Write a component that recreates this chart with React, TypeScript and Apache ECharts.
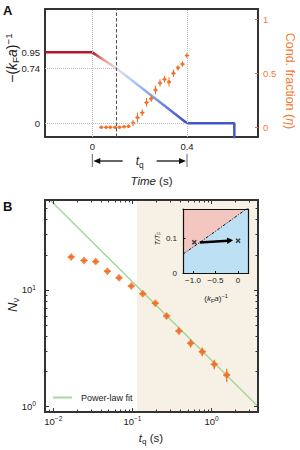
import React, { useEffect, useRef } from 'react';
import * as echarts from 'echarts';

const FONT = 'Liberation Sans, Arial, Helvetica, sans-serif';
const ORANGE = '#f26d21';
const ORANGE_TEXT = '#f47b35';
const FRAME = '#333333';
const GREEN = '#a6d79d';
const SHADE = '#f6f0e5';
const PINK = '#f4c6c0';
const LIGHTBLUE = '#bde0f5';

// ---------- Panel A ----------
const aTimeRange = [-0.2, 0.7];
const aKRange = [-0.183, 1.53];
const aEtaRange = [-0.09, 1.095];
const holdT = [-0.2, 0];
const holdK = [0.95, 0.95];
const rampT = [0, 0.1, 0.4];
const rampK = [0.95, 0.74, 0];
const finalT = [0.4, 0.6, 0.6];
const finalK = [0, 0, -0.3];
const quenchMarkT = 0.1;
const quenchMarkK = 0.74;
const condT = [0.038, 0.058, 0.076, 0.096, 0.115, 0.134, 0.153, 0.172, 0.191, 0.211, 0.229, 0.249, 0.267, 0.286, 0.305, 0.324, 0.343, 0.362, 0.381, 0.4];
const condEta = [0, 0, 0, 0, 0, 0.005, 0.01, 0.04, 0.09, 0.135, 0.23, 0.265, 0.345, 0.41, 0.445, 0.42, 0.5, 0.55, 0.585, 0.665];
const condErr = [0.012, 0.012, 0.012, 0.012, 0.012, 0.012, 0.015, 0.028, 0.046, 0.031, 0.04, 0.031, 0.04, 0.034, 0.031, 0.043, 0.034, 0.025, 0.025, 0.025];
const aTimeTicks = [0, 0.4];
const aKTicks = [0, 0.74, 0.95];
const aEtaTicks = [0, 0.5, 1];

// ---------- Panel B ----------
const bTRange = [0.00785, 3.85];
const bNRange = [0.901, 59.0];
const tq = [0.0168, 0.0244, 0.0343, 0.0481, 0.0676, 0.0966, 0.135, 0.194, 0.27, 0.386, 0.543, 0.761, 1.08, 1.55];
const Nv = [19.2, 17.9, 17.5, 14.5, 12.7, 10.8, 9.3, 7.7, 6.0, 4.45, 3.49, 2.96, 2.31, 1.87];
const NvErr = [0.6, 0.6, 0.6, 0.5, 0.45, 0.4, 0.35, 0.3, 0.3, 0.3, 0.28, 0.25, 0.22, 0.24];
const fitT = [0.008, 4.0];
const fitN = [64.3, 0.98];
const shadeStartT = 0.114;
const bTMajor = [0.01, 0.1, 1];
const bTMinor = [0.008, 0.009, 0.02, 0.03, 0.04, 0.05, 0.06, 0.07, 0.08, 0.09, 0.2, 0.3, 0.4, 0.5, 0.6, 0.7, 0.8, 0.9, 2, 3];
const bNMajor = [1, 10];
const bNMinor = [2, 3, 4, 5, 6, 7, 8, 9, 20, 30, 40, 50];

// ---------- Inset ----------
const iXRange = [-1.22, 0.22];
const iTRange = [0, 0.183];
const bndX = [-1.22, -0.85, -0.4, 0, 0.22];
const bndT = [0.055, 0.088, 0.129, 0.166, 0.186];
const crossX = [-0.97, 0];
const crossT = [0.089, 0.093];
const arrowX = [-0.85, -0.11];
const arrowT = [0.088, 0.094];
const iXTicks = [-1, -0.5, 0];
const iTTicks = [0, 0.1];

const L = Math.log10;

const richBase = (size: number, color = '#222') => ({
  b: { fontSize: size, fontFamily: FONT, color, lineHeight: size + 3 },
  it: { fontSize: size, fontFamily: FONT, color, fontStyle: 'italic', lineHeight: size + 3 },
  sup: { fontSize: size * 0.7, fontFamily: FONT, color, lineHeight: size * 0.7, verticalAlign: 'top' },
  sub: { fontSize: size * 0.7, fontFamily: FONT, color, lineHeight: size * 0.7, verticalAlign: 'bottom' },
});

const frameLine = (w = 2, c = FRAME) => ({ show: true, onZero: false, lineStyle: { color: c, width: w } });
const noLabel = { show: false };
const noTick = { show: false };
const noSplit = { show: false };

const powLabel = (v: number) => {
  const e = Math.round(v);
  return '{b|10}{sup|' + (e < 0 ? '\u2212' + -e : String(e)) + '}';
};

function buildOption() {
  const grids = [
    { left: 45, top: 9, width: 213, height: 128 },
    { left: 45, top: 200, width: 213, height: 212 },
    { left: 183, top: 209, width: 65, height: 64.5 },
  ];
  const bX = [L(bTRange[0]), L(bTRange[1])];
  const bY = [L(bNRange[0]), L(bNRange[1])];

  const xAxis: any[] = [
    {
      type: 'value', gridIndex: 0, position: 'bottom', min: aTimeRange[0], max: aTimeRange[1],
      axisLine: frameLine(), axisTick: noTick, splitLine: noSplit,
      axisLabel: { customValues: aTimeTicks, fontSize: 9.5, color: '#222', fontFamily: FONT, margin: 4, formatter: (v: number) => String(v) },
    },
    { type: 'value', gridIndex: 0, position: 'top', min: aTimeRange[0], max: aTimeRange[1], axisLine: frameLine(), axisTick: noTick, axisLabel: noLabel, splitLine: noSplit },
    {
      type: 'value', gridIndex: 1, position: 'bottom', min: bX[0], max: bX[1], z: 5,
      axisLine: frameLine(), splitLine: noSplit,
      axisTick: { show: true, inside: true, length: 4, customValues: bTMajor.map(L), lineStyle: { color: FRAME, width: 1 } },
      axisLabel: { customValues: bTMajor.map(L), margin: 3, formatter: powLabel, rich: richBase(9.5) },
    },
    {
      type: 'value', gridIndex: 1, position: 'bottom', min: bX[0], max: bX[1], z: 5,
      axisLine: { show: false, onZero: false }, splitLine: noSplit, axisLabel: noLabel,
      axisTick: { show: true, inside: true, length: 2.5, customValues: bTMinor.map(L), lineStyle: { color: FRAME, width: 1 } },
    },
    {
      type: 'value', gridIndex: 1, position: 'top', min: bX[0], max: bX[1], z: 5,
      axisLine: frameLine(), splitLine: noSplit, axisLabel: noLabel,
      axisTick: { show: true, inside: true, length: 4, customValues: bTMajor.map(L), lineStyle: { color: FRAME, width: 1 } },
    },
    {
      type: 'value', gridIndex: 1, position: 'top', min: bX[0], max: bX[1], z: 5,
      axisLine: { show: false, onZero: false }, splitLine: noSplit, axisLabel: noLabel,
      axisTick: { show: true, inside: true, length: 2.5, customValues: bTMinor.map(L), lineStyle: { color: FRAME, width: 1 } },
    },
    {
      type: 'value', gridIndex: 2, position: 'bottom', min: iXRange[0], max: iXRange[1], z: 20,
      axisLine: frameLine(1.2, '#111'), splitLine: noSplit,
      axisTick: { show: true, inside: true, length: 2.5, customValues: iXTicks, lineStyle: { color: '#111', width: 1 } },
      axisLabel: {
        customValues: iXTicks, fontSize: 8, color: '#222', fontFamily: FONT, margin: 3,
        formatter: (v: number) => (v === 0 ? '0' : (v < 0 ? '\u2212' : '') + Math.abs(v).toFixed(1)),
      },
    },
    { type: 'value', gridIndex: 2, position: 'top', min: iXRange[0], max: iXRange[1], z: 20, axisLine: frameLine(1.2, '#111'), axisTick: noTick, axisLabel: noLabel, splitLine: noSplit },
  ];

  const yAxis: any[] = [
    {
      type: 'value', gridIndex: 0, position: 'left', min: aKRange[0], max: aKRange[1],
      axisLine: frameLine(), axisTick: noTick, splitLine: noSplit,
      axisLabel: { customValues: aKTicks, fontSize: 9.5, color: '#222', fontFamily: FONT, margin: 5, formatter: (v: number) => (v === 0 ? '0' : v.toFixed(2)) },
    },
    {
      type: 'value', gridIndex: 0, position: 'right', min: aEtaRange[0], max: aEtaRange[1],
      axisLine: frameLine(), splitLine: noSplit,
      axisTick: { show: true, inside: true, length: 3, customValues: aEtaTicks, lineStyle: { color: ORANGE, width: 1 } },
      axisLabel: { customValues: aEtaTicks, fontSize: 9.5, color: ORANGE_TEXT, fontFamily: FONT, margin: 5, formatter: (v: number) => String(v) },
    },
    {
      type: 'value', gridIndex: 1, position: 'left', min: bY[0], max: bY[1], z: 5,
      axisLine: frameLine(), splitLine: noSplit,
      axisTick: { show: true, inside: true, length: 4, customValues: bNMajor.map(L), lineStyle: { color: FRAME, width: 1 } },
      axisLabel: { customValues: bNMajor.map(L), margin: 9, formatter: powLabel, rich: richBase(9.5) },
    },
    {
      type: 'value', gridIndex: 1, position: 'left', min: bY[0], max: bY[1], z: 5,
      axisLine: { show: false, onZero: false }, splitLine: noSplit, axisLabel: noLabel,
      axisTick: { show: true, inside: true, length: 2.5, customValues: bNMinor.map(L), lineStyle: { color: FRAME, width: 1 } },
    },
    {
      type: 'value', gridIndex: 1, position: 'right', min: bY[0], max: bY[1], z: 5,
      axisLine: frameLine(), splitLine: noSplit, axisLabel: noLabel,
      axisTick: { show: true, inside: true, length: 4, customValues: bNMajor.map(L), lineStyle: { color: FRAME, width: 1 } },
    },
    {
      type: 'value', gridIndex: 1, position: 'right', min: bY[0], max: bY[1], z: 5,
      axisLine: { show: false, onZero: false }, splitLine: noSplit, axisLabel: noLabel,
      axisTick: { show: true, inside: true, length: 2.5, customValues: bNMinor.map(L), lineStyle: { color: FRAME, width: 1 } },
    },
    {
      type: 'value', gridIndex: 2, position: 'left', min: iTRange[0], max: iTRange[1], z: 20,
      axisLine: frameLine(1.2, '#111'), splitLine: noSplit,
      axisTick: { show: true, inside: true, length: 2.5, customValues: iTTicks, lineStyle: { color: '#111', width: 1 } },
      axisLabel: { customValues: iTTicks, fontSize: 8, color: '#222', fontFamily: FONT, margin: 6, formatter: (v: number) => (v === 0 ? '0' : String(v)) },
    },
    { type: 'value', gridIndex: 2, position: 'right', min: iTRange[0], max: iTRange[1], z: 20, axisLine: frameLine(1.2, '#111'), axisTick: noTick, axisLabel: noLabel, splitLine: noSplit },
  ];

  const zip = (a: number[], b: number[]) => a.map((v, i) => [v, b[i]]);

  const errBars = (cap: number, width: number) => (params: any, api: any) => {
    const x = api.value(0);
    const y = api.value(1);
    const pLo = api.coord([x, api.value(2)]);
    const pHi = api.coord([x, api.value(3)]);
    const p = api.coord([x, y]);
    return {
      type: 'group',
      children: [
        { type: 'line', shape: { x1: pLo[0], y1: pLo[1], x2: pHi[0], y2: pHi[1] }, style: { stroke: ORANGE, lineWidth: width } },
        { type: 'line', shape: { x1: p[0] - cap, y1: p[1], x2: p[0] + cap, y2: p[1] }, style: { stroke: ORANGE, lineWidth: width } },
      ],
    };
  };

  const arrowRender = (params: any, api: any) => {
    const a = api.coord([api.value(0), api.value(1)]);
    const b = api.coord([api.value(2), api.value(3)]);
    const dx = b[0] - a[0];
    const dy = b[1] - a[1];
    const len = Math.sqrt(dx * dx + dy * dy) || 1;
    const ux = dx / len;
    const uy = dy / len;
    const hl = 6;
    const hw = 3.2;
    const bx = b[0] - ux * hl;
    const by = b[1] - uy * hl;
    return {
      type: 'group',
      children: [
        { type: 'line', shape: { x1: a[0], y1: a[1], x2: bx + ux, y2: by + uy }, style: { stroke: '#000', lineWidth: 2.4 } },
        { type: 'polygon', shape: { points: [[b[0], b[1]], [bx - uy * hw, by + ux * hw], [bx + uy * hw, by - ux * hw]] }, style: { fill: '#000' } },
      ],
    };
  };

  const dotted = { color: '#bbbbbb', type: 'dotted', width: 1 };

  const series: any[] = [
    {
      type: 'line', xAxisIndex: 0, yAxisIndex: 0, z: 1, data: zip(holdT, holdK), symbol: 'none',
      lineStyle: { color: '#b2182b', width: 2.5 },
      markLine: {
        silent: true, symbol: ['none', 'none'], label: { show: false }, lineStyle: dotted, animation: false,
        data: [
          [{ coord: [aTimeTicks[0], aKRange[0]] }, { coord: [aTimeTicks[0], aKRange[1]] }],
          [{ coord: [aTimeTicks[1], aKRange[0]] }, { coord: [aTimeTicks[1], aKRange[1]] }],
          [{ coord: [aTimeRange[0], quenchMarkK] }, { coord: [quenchMarkT, quenchMarkK] }],
          [{ coord: [aTimeRange[0], 0] }, { coord: [aTimeTicks[1], 0] }],
          [
            { coord: [quenchMarkT, aKRange[0]], lineStyle: { color: '#555', type: [3.5, 2], width: 1.1 } },
            { coord: [quenchMarkT, aKRange[1]] },
          ],
        ],
      },
    },
    {
      type: 'line', xAxisIndex: 0, yAxisIndex: 0, z: 2, data: zip(rampT, rampK), symbol: 'none',
      lineStyle: {
        width: 2.5,
        color: new echarts.graphic.LinearGradient(0, 0, 1, 0, [
          { offset: 0, color: '#b8122e' },
          { offset: 0.12, color: '#eb9a88' },
          { offset: 0.26, color: '#e4dfe6' },
          { offset: 0.42, color: '#b2cbf4' },
          { offset: 0.7, color: '#7693e6' },
          { offset: 1, color: '#3a4bc6' },
        ]),
      },
    },
    {
      type: 'line', xAxisIndex: 0, yAxisIndex: 0, z: 2, data: zip(finalT, finalK), symbol: 'none',
      lineStyle: { color: '#4257cc', width: 2.5 },
    },
    {
      type: 'custom', xAxisIndex: 0, yAxisIndex: 1, z: 3,
      renderItem: errBars(2.2, 1),
      encode: { x: 0, y: 1 },
      data: condT.map((t, i) => [t, condEta[i], condEta[i] - condErr[i], condEta[i] + condErr[i]]),
    },
    {
      type: 'scatter', xAxisIndex: 0, yAxisIndex: 1, z: 4, symbol: 'circle', symbolSize: 3.6,
      itemStyle: { color: ORANGE }, data: zip(condT, condEta),
    },
    {
      type: 'line', xAxisIndex: 2, yAxisIndex: 2, z: 1, data: [], symbol: 'none',
      markArea: {
        silent: true, itemStyle: { color: SHADE }, label: { show: false },
        data: [[{ xAxis: L(shadeStartT) }, { xAxis: L(bTRange[1]) }]],
      },
    },
    {
      name: 'Power-law fit', type: 'line', xAxisIndex: 2, yAxisIndex: 2, z: 2, symbol: 'none',
      lineStyle: { color: GREEN, width: 1.5 }, itemStyle: { color: GREEN },
      data: fitT.map((t, i) => [L(t), L(fitN[i])]),
    },
    {
      type: 'custom', xAxisIndex: 2, yAxisIndex: 2, z: 3,
      renderItem: errBars(3.5, 1.2),
      encode: { x: 0, y: 1 },
      data: tq.map((t, i) => [L(t), L(Nv[i]), L(Nv[i] - NvErr[i]), L(Nv[i] + NvErr[i])]),
    },
    {
      type: 'scatter', xAxisIndex: 2, yAxisIndex: 2, z: 4, symbol: 'diamond', symbolSize: [7, 8],
      itemStyle: { color: ORANGE }, data: tq.map((t, i) => [L(t), L(Nv[i])]),
    },
    {
      type: 'line', xAxisIndex: 6, yAxisIndex: 6, z: 10, symbol: 'none',
      data: [[iXRange[0], iTRange[1]], [iXRange[1], iTRange[1]]],
      lineStyle: { width: 0 }, areaStyle: { color: PINK, opacity: 1, origin: 'start' },
    },
    {
      type: 'line', xAxisIndex: 6, yAxisIndex: 6, z: 11, symbol: 'none', data: zip(bndX, bndT),
      lineStyle: { color: '#111', width: 1, type: [3, 1.5, 1, 1.5] },
      areaStyle: { color: LIGHTBLUE, opacity: 1, origin: 'start' },
    },
    {
      type: 'scatter', xAxisIndex: 6, yAxisIndex: 6, z: 12,
      symbol: 'path://M2,0L5,3L8,0L10,2L7,5L10,8L8,10L5,7L2,10L0,8L3,5L0,2Z', symbolSize: 5,
      itemStyle: { color: '#111' }, data: zip(crossX, crossT),
    },
    {
      type: 'custom', xAxisIndex: 6, yAxisIndex: 6, z: 13,
      renderItem: arrowRender,
      encode: { x: [0, 2], y: [1, 3] },
      data: [[arrowX[0], arrowT[0], arrowX[1], arrowT[1]]],
    },
  ];

  return {
    animation: false,
    textStyle: { fontFamily: FONT },
    grid: grids,
    xAxis,
    yAxis,
    series,
    legend: {
      left: 53, top: 393, padding: 0, itemWidth: 19, itemHeight: 2,
      data: [{ name: 'Power-law fit', icon: 'rect' }],
      textStyle: { fontSize: 9, color: '#222', fontFamily: FONT, padding: [0, 0, 0, 4] },
      selectedMode: false,
    },
  };
}

function rtext(x: number, y: number, text: string, size: number, rotation = 0, color = '#222', extra: any = {}) {
  return {
    type: 'text', x, y, rotation, z: 50,
    style: { text, align: 'center', verticalAlign: 'middle', fontFamily: FONT, fontSize: size, fill: color, rich: richBase(size, color), ...extra },
  };
}

export default function App() {
  const ref = useRef<HTMLDivElement>(null);
  useEffect(() => {
    document.body.style.margin = '0';
    const chart = echarts.init(ref.current as HTMLDivElement, null, { renderer: 'svg' });
    chart.setOption(buildOption() as any);

    const x0 = chart.convertToPixel({ xAxisIndex: 0 }, aTimeTicks[0]) as number;
    const x4 = chart.convertToPixel({ xAxisIndex: 0 }, aTimeTicks[1]) as number;
    const mid = (x0 + x4) / 2;
    const ay = 161;
    const blk = { stroke: '#111', lineWidth: 1.3 };

    const graphic: any[] = [
      { type: 'text', x: 3, y: 4, z: 50, style: { text: 'A', fontFamily: FONT, fontSize: 13, fontWeight: 'bold', fill: '#111' } },
      { type: 'text', x: 3, y: 200, z: 50, style: { text: 'B', fontFamily: FONT, fontSize: 13, fontWeight: 'bold', fill: '#111' } },
      { type: 'line', z: 50, shape: { x1: x0, y1: ay - 7, x2: x0, y2: ay + 6 }, style: { stroke: '#666', lineWidth: 1 } },
      { type: 'line', z: 50, shape: { x1: x4, y1: ay - 7, x2: x4, y2: ay + 6 }, style: { stroke: '#666', lineWidth: 1 } },
      { type: 'line', z: 50, shape: { x1: x0 + 6, y1: ay, x2: mid - 17, y2: ay }, style: blk },
      { type: 'polygon', z: 50, shape: { points: [[x0 + 1, ay], [x0 + 8, ay - 3], [x0 + 8, ay + 3]] }, style: { fill: '#111' } },
      { type: 'line', z: 50, shape: { x1: mid + 17, y1: ay, x2: x4 - 6, y2: ay }, style: blk },
      { type: 'polygon', z: 50, shape: { points: [[x4 - 1, ay], [x4 - 8, ay - 3], [x4 - 8, ay + 3]] }, style: { fill: '#111' } },
      rtext(mid, ay, '{it|t}{sub|q}', 12),
      rtext(151.5, 181, '{it|Time}{b| (s)}', 11.5),
      rtext(12, 58, '{b|\u2212(}{it|k}{sub|F}{it|a}{b|)}{sup|\u22121}', 14, Math.PI / 2),
      rtext(290, 81, '{b|Cond. fraction (}{it|\u03b7}{b|)}', 12.5, -Math.PI / 2, ORANGE_TEXT),
      rtext(12, 305, '{it|N}{sub|\u03bd}', 13, Math.PI / 2),
      rtext(151, 438, '{it|t}{sub|q}{b| (s)}', 11.5),
      rtext(157, 238.5, '{it|T/T}{sub|F}', 7, Math.PI / 2),
      rtext(216, 298, '{b|(}{it|k}{sub|F}{it|a}{b|)}{sup|\u22121}', 8),
    ];
    chart.setOption({ graphic });
    return () => chart.dispose();
  }, []);
  return <div ref={ref} style={{ width: 300, height: 450 }} />;
}
